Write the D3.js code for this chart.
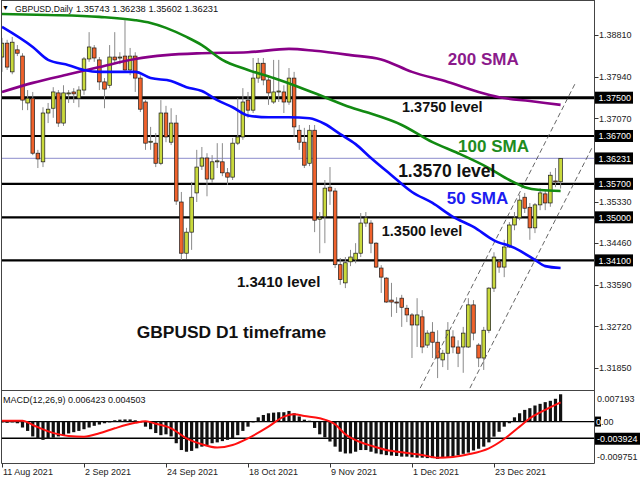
<!DOCTYPE html>
<html><head><meta charset="utf-8">
<script src="https://cdn.jsdelivr.net/npm/d3@7"></script>
<style>body{margin:0;background:#fff}svg{display:block;font-family:"Liberation Sans",Arial,sans-serif}</style>
</head><body><svg id="c" width="640" height="480"></svg>
<script>
// ---------- DATA ----------
const opens=[1.3835,1.3864,1.3804,1.3850,1.3837,1.3739,1.3749,1.3634,1.3616,1.3718,
1.3728,1.3760,1.3697,1.3758,1.3762,1.3749,1.3766,1.3831,1.3854,1.3829,
1.3783,1.3776,1.3835,1.3833,1.3837,1.3808,1.3837,1.3791,1.3741,1.3657,
1.3655,1.3613,1.3718,1.3657,1.3697,1.3532,1.3425,1.3469,1.3551,1.3607,
1.3624,1.3580,1.3616,1.3616,1.3593,1.3584,1.3655,1.3668,1.3745,1.3724,
1.3791,1.3822,1.3787,1.3741,1.3762,1.3762,1.3741,1.3791,1.3682,1.3657,
1.3613,1.3682,1.3496,1.3501,1.3563,1.3555,1.3401,1.3363,1.3407,1.3411,
1.3425,1.3488,1.3488,1.3446,1.3394,1.3373,1.3327,1.3323,1.3331,1.3310,
1.3296,1.3275,1.3292,1.3233,1.3260,1.3239,1.3202,1.3216,1.3250,1.3229,
1.3229,1.3229,1.3317,1.3233,1.3206,1.3264,1.3352,1.3407,1.3396,1.3438,
1.3484,1.3499,1.3542,1.3521,1.3478,1.3526,1.3549,1.3530,1.3576,1.35743];
const highs=[1.3875,1.3871,1.3877,1.3860,1.3843,1.3766,1.3762,1.3641,1.3730,1.3739,
1.3772,1.3766,1.3776,1.3766,1.3770,1.3774,1.3835,1.3887,1.3860,1.3835,
1.3791,1.3860,1.3887,1.3845,1.3912,1.3854,1.3845,1.3797,1.3745,1.3689,
1.3676,1.3745,1.3733,1.3728,1.3714,1.3553,1.3478,1.3574,1.3641,1.3647,
1.3634,1.3630,1.3655,1.3655,1.3603,1.3666,1.3749,1.3770,1.3762,1.3833,
1.3833,1.3833,1.3797,1.3829,1.3829,1.3776,1.3812,1.3804,1.3693,1.3687,
1.3693,1.3693,1.3511,1.3578,1.3605,1.3561,1.3415,1.3417,1.3432,1.3446,
1.3509,1.3511,1.3494,1.3448,1.3400,1.3375,1.3363,1.3333,1.3338,1.3317,
1.3300,1.3331,1.3306,1.3264,1.3281,1.3264,1.3223,1.3281,1.3264,1.3243,
1.3271,1.3331,1.3327,1.3237,1.3271,1.3354,1.3427,1.3411,1.3453,1.3490,
1.3511,1.3547,1.3551,1.3530,1.3530,1.3561,1.3557,1.3595,1.3603,1.36238];
const lows=[1.3804,1.3808,1.3799,1.3837,1.3724,1.3724,1.3630,1.3603,1.3605,1.3697,
1.3708,1.3689,1.3691,1.3739,1.3739,1.3730,1.3756,1.3825,1.3825,1.3766,
1.3728,1.3770,1.3822,1.3820,1.3804,1.3797,1.3762,1.3720,1.3641,1.3641,
1.3605,1.3609,1.3657,1.3651,1.3526,1.3411,1.3413,1.3432,1.3532,1.3599,
1.3544,1.3572,1.3603,1.3586,1.3568,1.3578,1.3651,1.3662,1.3708,1.3718,
1.3781,1.3776,1.3735,1.3737,1.3741,1.3718,1.3735,1.3668,1.3641,1.3603,
1.3607,1.3469,1.3425,1.3446,1.3526,1.3394,1.3359,1.3352,1.3398,1.3404,
1.3417,1.3480,1.3425,1.3394,1.3342,1.3321,1.3292,1.3300,1.3271,1.3281,
1.3206,1.3229,1.3216,1.3227,1.3206,1.3164,1.3187,1.3181,1.3216,1.3187,
1.3175,1.3227,1.3243,1.3187,1.3181,1.3258,1.3344,1.3384,1.3375,1.3436,
1.3473,1.3494,1.3509,1.3453,1.3467,1.3515,1.3515,1.3522,1.3563,1.35602];
const closes=[1.3864,1.3814,1.3866,1.3843,1.3745,1.3749,1.3634,1.3622,1.3718,1.3726,
1.3762,1.3697,1.3760,1.3760,1.3758,1.3766,1.3831,1.3856,1.3833,1.3783,
1.3768,1.3835,1.3829,1.3835,1.3808,1.3837,1.3791,1.3726,1.3655,1.3659,
1.3613,1.3718,1.3668,1.3697,1.3534,1.3425,1.3469,1.3542,1.3605,1.3624,
1.3580,1.3616,1.3618,1.3593,1.3584,1.3655,1.3668,1.3741,1.3724,1.3791,
1.3822,1.3787,1.3760,1.3762,1.3764,1.3741,1.3791,1.3689,1.3657,1.3609,
1.3682,1.3494,1.3499,1.3561,1.3555,1.3401,1.3370,1.3405,1.3417,1.3425,
1.3488,1.3499,1.3446,1.3396,1.3375,1.3323,1.3323,1.3321,1.3312,1.3296,
1.3275,1.3296,1.3229,1.3258,1.3239,1.3206,1.3216,1.3264,1.3229,1.3216,
1.3258,1.3317,1.3258,1.3206,1.3264,1.3352,1.3417,1.3396,1.3438,1.3484,
1.3499,1.3536,1.3519,1.3478,1.3526,1.3551,1.3530,1.3588,1.3574,1.36231];

// moving averages: [bar index, price]
const sma50=[[0,1.3898],[6,1.3856],[9,1.3829],[13,1.3818],[16,1.3808],[19,1.3804],[26,1.3804],[29,1.3791],[33,1.3785],[36,1.3772],[39,1.3764],[42,1.3745],[45,1.3730],[48,1.3713],[52,1.3709],[56,1.3709],[60,1.3707],[63,1.3695],[66,1.3674],[69,1.3653],[72,1.3624],[76,1.3588],[80,1.3553],[84,1.3530],[88,1.3501],[92,1.3480],[96,1.3452],[100,1.3436],[104,1.3411],[106,1.3398],[109,1.3394]];
const sma100=[[0,1.3925],[9,1.3923],[19,1.3919],[26,1.3912],[29,1.3906],[32,1.3896],[36,1.3877],[39,1.3860],[43,1.3829],[48,1.3808],[53,1.3791],[58,1.3772],[63,1.3751],[68,1.3730],[71,1.3720],[78,1.3693],[84,1.3657],[89,1.3634],[95,1.3603],[99,1.3578],[102,1.3563],[105,1.3557],[109,1.3555]];
const sma200=[[0,1.3762],[6,1.3781],[13,1.3799],[19,1.3814],[26,1.3831],[32,1.3839],[39,1.3843],[48,1.3845],[56,1.3852],[61,1.3848],[68,1.3839],[74,1.3830],[80,1.3804],[87,1.3783],[93,1.3762],[97,1.3751],[103,1.3743],[109,1.3735]];

// MACD (x 0.001)
const macdHist=[-0.2,-0.3,-0.2,-0.4,-1.4,-2.2,-3.5,-4.1,-4.3,-4.1,
-3.8,-3.5,-3.2,-2.8,-2.5,-2.2,-1.8,-1.4,-1.0,-0.7,
-0.4,-0.2,0.3,0.45,0.5,0.5,0.3,-0.2,-1.2,-1.8,
-2.7,-3.2,-3.0,-3.5,-5.1,-6.7,-7.1,-6.9,-6.3,-5.9,
-5.5,-5.1,-4.9,-4.6,-4.3,-3.9,-3.2,-2.2,-1.2,-0.2,
1.0,1.55,1.95,2.1,2.2,2.2,2.5,1.95,1.2,0.45,
0.2,-1.5,-3.0,-3.7,-4.7,-5.9,-7.1,-7.5,-7.5,-7.1,
-6.7,-6.7,-7.1,-7.5,-7.7,-7.9,-8.0,-8.1,-8.25,-8.25,
-8.4,-8.5,-8.5,-8.6,-8.6,-8.8,-8.6,-8.5,-8.25,-7.9,
-7.6,-7.3,-6.8,-6.4,-5.9,-4.9,-3.55,-2.4,-1.2,-0.4,
1.0,1.95,2.75,3.15,3.78,4.17,4.57,4.88,5.36,6.423];
const macdSignal=[[0,0.2],[4,0.2],[6,-0.8],[9,-2.3],[13,-3.39],[16,-3.55],[19,-2.76],[22,-1.59],[26,-0.3],[28,0.05],[30,-0.5],[33,-1.59],[36,-3.94],[39,-5.35],[42,-6.13],[45,-5.51],[48,-3.94],[52,-1.19],[55,1.16],[57,1.71],[59,1.32],[62,0.77],[65,-0.64],[67,-3.0],[70,-4.88],[72,-5.66],[75,-6.68],[78,-7.23],[82,-7.86],[85,-8.49],[88,-8.33],[91,-7.70],[95,-6.29],[98,-4.09],[101,-1.19],[103,0.77],[106,2.74],[109,4.503]];

const priceTicks=[1.38810,1.37940,1.37070,1.35330,1.34460,1.33590,1.32720,1.31850];
const levelPrices=[1.3750,1.3670,1.3570,1.3500,1.3410];
const levelLabels=["1.37500","1.36700","1.35700","1.35000","1.34100"];
const bidPrice=1.36231, bidLabel="1.36231";
const dateTickIdx=[0,16,32,48,64,80,96];
const dateTickLabels=["11 Aug 2021","2 Sep 2021","24 Sep 2021","18 Oct 2021","9 Nov 2021","1 Dec 2021","23 Dec 2021"];
const macdMax=0.007193, macdMin=-0.009751, macdLevel=-0.003924;
const channelLines=[[[81.6,1.3143],[112.0,1.3783]],[[91.3,1.3143],[115.3,1.3649]]];
const notes=[
 {t:"200 SMA",i:87.0,p:1.3818,c:"#8b1a8b",s:17},
 {t:"1.3750 level",i:78.05,p:1.3720,c:"#111",s:14.5},
 {t:"100 SMA",i:89.0,p:1.3637,c:"#1e8c1e",s:17},
 {t:"1.3570 level",i:77.3,p:1.3584,c:"#111",s:17.5},
 {t:"50 SMA",i:86.8,p:1.3528,c:"#1c1cf0",s:17},
 {t:"1.3500 level",i:74.1,p:1.3461,c:"#111",s:14.5},
 {t:"1.3410 level",i:45.85,p:1.3354,c:"#111",s:15},
 {t:"GBPUSD D1 timeframe",i:26.3,p:1.3248,c:"#111",s:17.4}
];

// ---------- LAYOUT ----------
const svg=d3.select("#c");
const L=1.5,R=594.5,mainTop=0,mainBot=390.5,mTop=390.5,mBot=463.5;
const x=d3.scaleLinear().domain([0,109]).range([2,560.6]);
const y=d3.scaleLinear().domain([1.31412,1.39542]).range([389,0]);
const ym=d3.scaleLinear().domain([macdMin,macdMax]).range([463,391]);

svg.append("defs").append("clipPath").attr("id","mc").append("rect")
 .attr("x",L).attr("y",mainTop).attr("width",R-L).attr("height",mainBot-mainTop);
svg.select("defs").append("clipPath").attr("id","mm").append("rect")
 .attr("x",L).attr("y",mTop).attr("width",R-L).attr("height",mBot-mTop);

const main=svg.append("g").attr("clip-path","url(#mc)");

// bid line
main.append("line").attr("x1",L).attr("x2",R).attr("y1",y(bidPrice)).attr("y2",y(bidPrice))
 .attr("stroke","#a3a3d6").attr("stroke-width",1.2);
// level lines
main.selectAll(".lvl").data(levelPrices).join("line")
 .attr("x1",L).attr("x2",R).attr("y1",d=>y(d)).attr("y2",d=>y(d))
 .attr("stroke","#000").attr("stroke-width",(d,k)=>k===0?3:2.2);

// candles
const idx=d3.range(opens.length);
main.selectAll(".wick").data(idx).join("line")
 .attr("x1",i=>x(i)).attr("x2",i=>x(i)).attr("y1",i=>y(highs[i])).attr("y2",i=>y(lows[i]))
 .attr("stroke","#8a8a8a").attr("stroke-width",1);
main.selectAll(".body").data(idx).join("rect")
 .attr("x",i=>x(i)-1.8).attr("width",3.6)
 .attr("y",i=>y(Math.max(opens[i],closes[i])))
 .attr("height",i=>Math.max(1,Math.abs(y(opens[i])-y(closes[i]))))
 .attr("fill",i=>closes[i]>=opens[i]?"#c9d93c":"#f0622c")
 .attr("stroke","#1a1a1a").attr("stroke-width",0.7);

// channel
main.selectAll(".ch").data(channelLines).join("line")
 .attr("x1",d=>x(d[0][0])).attr("y1",d=>y(d[0][1])).attr("x2",d=>x(d[1][0])).attr("y2",d=>y(d[1][1]))
 .attr("stroke","#555").attr("stroke-width",0.9).attr("stroke-dasharray","5,3");

// SMAs
const ln=d3.line().x(d=>x(d[0])).y(d=>y(d[1])).curve(d3.curveMonotoneX);
[[sma200,"#880088"],[sma100,"#128a12"],[sma50,"#0a0aff"]].forEach(([s,c])=>{
 main.append("path").attr("d",ln(s)).attr("fill","none").attr("stroke",c).attr("stroke-width",2.6);
});

// annotations
svg.selectAll(".note").data(notes).join("text")
 .attr("x",d=>x(d.i)).attr("y",d=>y(d.p)).text(d=>d.t)
 .attr("fill",d=>d.c).attr("font-size",d=>d.s).attr("font-weight","bold");

// header
svg.append("text").attr("x",2).attr("y",10).attr("font-size",7).text("▼");
svg.append("text").attr("x",15).attr("y",12).attr("font-size",8.6).attr("fill","#111").text("GBPUSD,Daily");
svg.append("text").attr("x",76).attr("y",12).attr("font-size",9.3).attr("fill","#111")
 .text([opens[109],highs[109],lows[109],closes[109]].map(v=>v.toFixed(5)).join(" "));

// borders
svg.append("line").attr("x1",L).attr("x2",L).attr("y1",0).attr("y2",mBot).attr("stroke","#444");
svg.append("line").attr("x1",R).attr("x2",R).attr("y1",0).attr("y2",mBot).attr("stroke","#444");
svg.append("line").attr("x1",L).attr("x2",R).attr("y1",0.5).attr("y2",0.5).attr("stroke","#444");
svg.append("line").attr("x1",L).attr("x2",R).attr("y1",mainBot).attr("y2",mainBot).attr("stroke","#444");
svg.append("line").attr("x1",L).attr("x2",R).attr("y1",mBot).attr("y2",mBot).attr("stroke","#444");

// price axis
const pa=svg.append("g").attr("font-size",9);
pa.selectAll(".pt").data(priceTicks).join("line")
 .attr("x1",R).attr("x2",R+4).attr("y1",d=>Math.round(y(d))+0.5).attr("y2",d=>Math.round(y(d))+0.5).attr("stroke","#333");
pa.selectAll(".pl").data(priceTicks).join("text")
 .attr("x",599).attr("y",d=>y(d)+3.3).text(d=>d.toFixed(5)).attr("fill","#222");
const boxes=levelPrices.map((p,k)=>({p,l:levelLabels[k]})).concat([{p:bidPrice,l:bidLabel}]);
pa.selectAll(".bx").data(boxes).join("rect")
 .attr("x",595).attr("y",d=>y(d.p)-6).attr("width",38).attr("height",12).attr("fill","#000");
pa.selectAll(".bt").data(boxes).join("text")
 .attr("x",598.5).attr("y",d=>y(d.p)+3.3).text(d=>d.l).attr("fill","#fff");

// MACD panel
const mg=svg.append("g").attr("clip-path","url(#mm)");
mg.append("line").attr("x1",L).attr("x2",R).attr("y1",ym(0)).attr("y2",ym(0)).attr("stroke","#000").attr("stroke-width",1.3);
mg.append("line").attr("x1",L).attr("x2",R).attr("y1",ym(macdLevel)).attr("y2",ym(macdLevel)).attr("stroke","#000").attr("stroke-width",1.6);
mg.selectAll(".hb").data(idx).join("rect")
 .attr("x",i=>x(i)-1.6).attr("width",3.2)
 .attr("y",i=>ym(Math.max(0,macdHist[i]/1000)))
 .attr("height",i=>Math.abs(ym(macdHist[i]/1000)-ym(0)))
 .attr("fill","#111");
const sl=d3.line().x(d=>x(d[0])).y(d=>ym(d[1]/1000)).curve(d3.curveMonotoneX);
mg.append("path").attr("d",sl(macdSignal)).attr("fill","none").attr("stroke","#ff1010").attr("stroke-width",2);
svg.append("text").attr("x",3).attr("y",403).attr("font-size",9).attr("fill","#111")
 .text("MACD(12,26,9) "+(macdHist[109]/1000).toFixed(6)+" "+(macdSignal[macdSignal.length-1][1]/1000).toFixed(6));

const ma=svg.append("g").attr("font-size",9);
ma.append("text").attr("x",597).attr("y",402).text(macdMax.toFixed(6)).attr("fill","#222");
ma.append("text").attr("x",597).attr("y",460).text(macdMin.toFixed(6)).attr("fill","#222");
ma.append("rect").attr("x",595).attr("y",ym(0)-5).attr("width",6).attr("height",10).attr("fill","#000");
ma.append("text").attr("x",596).attr("y",ym(0)+3.3).text("0").attr("fill","#fff");
ma.append("text").attr("x",601).attr("y",ym(0)+3.3).text(".00").attr("fill","#222");
ma.append("rect").attr("x",595).attr("y",ym(macdLevel)-5.5).attr("width",45).attr("height",12).attr("fill","#000");
ma.append("text").attr("x",597).attr("y",ym(macdLevel)+3.8).text(macdLevel.toFixed(6)).attr("fill","#fff");
[macdMax,macdMin].forEach(v=>{});

// date axis
const da=svg.append("g").attr("font-size",9);
da.selectAll(".dt").data(dateTickIdx).join("line")
 .attr("x1",i=>Math.round(x(i))+0.5).attr("x2",i=>Math.round(x(i))+0.5).attr("y1",mBot).attr("y2",mBot+4).attr("stroke","#333");
da.selectAll(".dl").data(dateTickIdx).join("text")
 .attr("x",i=>x(i)+1).attr("y",474.5).text((i,k)=>dateTickLabels[k]).attr("fill","#222");
</script></body></html>
